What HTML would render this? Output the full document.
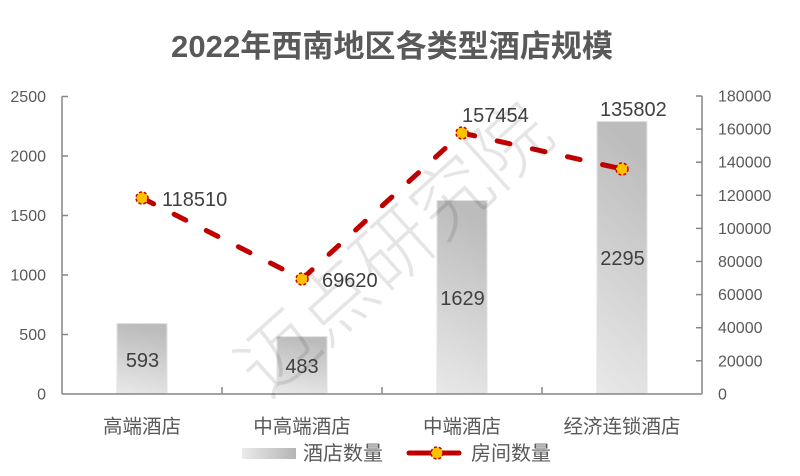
<!DOCTYPE html>
<html>
<head>
<meta charset="utf-8">
<style>
  html,body{margin:0;padding:0;background:#fff;}
  svg{display:block;}
  text{font-family:"Liberation Sans","Noto Sans CJK SC",sans-serif;}
</style>
</head>
<body>
<svg width="800" height="476" viewBox="0 0 800 476" xmlns="http://www.w3.org/2000/svg">
  <defs>
    <linearGradient id="barG" x1="0" y1="1" x2="0.15" y2="0">
      <stop offset="0" stop-color="#e9e9e9"/>
      <stop offset="1" stop-color="#bcbcbc"/>
    </linearGradient>
    <linearGradient id="legG" x1="0" y1="0" x2="1" y2="0">
      <stop offset="0" stop-color="#ebebeb"/>
      <stop offset="1" stop-color="#b4b4b4"/>
    </linearGradient>
  </defs>
  <rect width="800" height="476" fill="#fff"/>

  <!-- Title -->
  <text x="392" y="57" text-anchor="middle" font-size="31" font-weight="bold" fill="#595959" textLength="442" lengthAdjust="spacing" style="font-family:'Liberation Sans','Noto Sans CJK SC',sans-serif;">2022年西南地区各类型酒店规模</text>

  <!-- Bars -->
  <rect x="117" y="323.5" width="50" height="70.5" fill="url(#barG)" stroke="#e2e2e2" stroke-width="1"/>
  <rect x="277" y="336.6" width="50" height="57.4" fill="url(#barG)" stroke="#e2e2e2" stroke-width="1"/>
  <rect x="437" y="200.5" width="50" height="193.5" fill="url(#barG)" stroke="#e2e2e2" stroke-width="1"/>
  <rect x="597" y="121.4" width="50" height="272.6" fill="url(#barG)" stroke="#e2e2e2" stroke-width="1"/>

  <!-- Axes -->
  <g stroke="#868686" stroke-width="1.5" fill="none">
    <line x1="62" y1="96.5" x2="62" y2="394"/>
    <line x1="702" y1="96" x2="702" y2="394"/>
    <line x1="62" y1="394" x2="702" y2="394"/>
    <line x1="62" y1="96.5" x2="68" y2="96.5"/>
    <line x1="62" y1="156" x2="68" y2="156"/>
    <line x1="62" y1="215.5" x2="68" y2="215.5"/>
    <line x1="62" y1="275" x2="68" y2="275"/>
    <line x1="62" y1="334.5" x2="68" y2="334.5"/>
    <line x1="696" y1="96" x2="702" y2="96"/>
    <line x1="696" y1="129.1" x2="702" y2="129.1"/>
    <line x1="696" y1="162.2" x2="702" y2="162.2"/>
    <line x1="696" y1="195.3" x2="702" y2="195.3"/>
    <line x1="696" y1="228.4" x2="702" y2="228.4"/>
    <line x1="696" y1="261.5" x2="702" y2="261.5"/>
    <line x1="696" y1="294.6" x2="702" y2="294.6"/>
    <line x1="696" y1="327.7" x2="702" y2="327.7"/>
    <line x1="696" y1="360.8" x2="702" y2="360.8"/>
    <line x1="222" y1="387" x2="222" y2="394"/>
    <line x1="382" y1="387" x2="382" y2="394"/>
    <line x1="542" y1="387" x2="542" y2="394"/>
  </g>

  <!-- Left axis labels -->
  <g font-size="16" fill="#595959" text-anchor="end">
    <text x="46" y="102">2500</text>
    <text x="46" y="161.5">2000</text>
    <text x="46" y="221">1500</text>
    <text x="46" y="280.5">1000</text>
    <text x="46" y="340">500</text>
    <text x="46" y="399.5">0</text>
  </g>
  <!-- Right axis labels -->
  <g font-size="16" fill="#595959" text-anchor="start">
    <text x="718" y="101.5">180000</text>
    <text x="718" y="134.6">160000</text>
    <text x="718" y="167.7">140000</text>
    <text x="718" y="200.8">120000</text>
    <text x="718" y="233.9">100000</text>
    <text x="718" y="267">80000</text>
    <text x="718" y="300.1">60000</text>
    <text x="718" y="333.2">40000</text>
    <text x="718" y="366.3">20000</text>
    <text x="718" y="399.4">0</text>
  </g>

  <!-- Category labels -->
  <g font-size="19.5" fill="#595959" text-anchor="middle">
    <text x="142" y="433">高端酒店</text>
    <text x="302" y="433">中高端酒店</text>
    <text x="462" y="433">中端酒店</text>
    <text x="622" y="433">经济连锁酒店</text>
  </g>

  <!-- Bar value labels -->
  <g font-size="20" fill="#404040" text-anchor="middle">
    <text x="142.5" y="367">593</text>
    <text x="302" y="373">483</text>
    <text x="462.5" y="305">1629</text>
    <text x="622.5" y="265">2295</text>
  </g>

  <!-- Line series -->
  <polyline points="142,198 302,279 462,133 622,169" fill="none" stroke="#c00000" stroke-width="5" stroke-dasharray="13 23" stroke-linecap="round" stroke-linejoin="round"/>
  <g fill="#ffc000" stroke="#c00000" stroke-width="1.5" stroke-dasharray="3 2">
    <circle cx="142" cy="198" r="6"/>
    <circle cx="302" cy="279" r="6"/>
    <circle cx="462" cy="133" r="6"/>
    <circle cx="622" cy="169" r="6"/>
  </g>

  <!-- Line value labels -->
  <g font-size="20" fill="#404040" text-anchor="start">
    <text x="162" y="206">118510</text>
    <text x="322" y="287">69620</text>
    <text x="462" y="122">157454</text>
    <text x="600" y="116">135802</text>
  </g>

  <!-- Watermark -->
  <text x="390" y="245" transform="rotate(-42 390 245)" text-anchor="middle" dominant-baseline="central" font-size="78" fill="#000" fill-opacity="0.1" style="font-family:'Noto Sans CJK SC',sans-serif;font-weight:300;">迈点研究院</text>

  <!-- Legend -->
  <rect x="242" y="448" width="54" height="11" fill="url(#legG)"/>
  <text x="303" y="460" font-size="20" fill="#595959">酒店数量</text>
  <line x1="409" y1="453" x2="459" y2="453" stroke="#c00000" stroke-width="5" stroke-linecap="round"/>
  <line x1="425" y1="453" x2="449" y2="453" stroke="#fff" stroke-width="7"/>
  <line x1="425" y1="453" x2="449" y2="453" stroke="#c00000" stroke-width="5"/>
  <circle cx="437" cy="453" r="6" fill="#ffc000" stroke="#c00000" stroke-width="1.5" stroke-dasharray="3 2"/>
  <text x="471" y="460" font-size="20" fill="#595959">房间数量</text>
</svg>
</body>
</html>
